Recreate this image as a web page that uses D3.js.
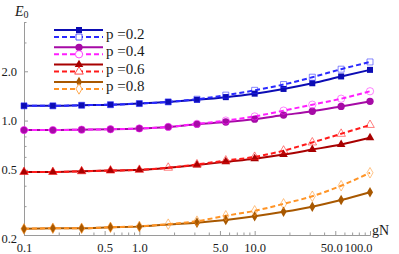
<!DOCTYPE html>
<html><head><meta charset="utf-8">
<script src="https://cdn.jsdelivr.net/npm/d3@7"></script>
<style>body{margin:0;background:#fff}svg{display:block}</style>
</head><body><svg id="c" width="399" height="254"></svg>
<script>
const gN = [0.1, 0.178, 0.316, 0.562, 1, 1.78, 3.16, 5.62, 10, 17.8, 31.6, 56.2, 100];
const labels = ["p =0.2", "p =0.4", "p =0.6", "p =0.8"];
const solid02 = [1.23,1.23,1.24,1.25,1.27,1.30,1.34,1.39,1.46,1.56,1.69,1.86,2.04];
const dashed02 = [1.23,1.23,1.24,1.25,1.27,1.30,1.35,1.43,1.53,1.66,1.84,2.06,2.28];
const solid04 = [0.875,0.875,0.88,0.885,0.895,0.915,0.95,0.98,1.02,1.08,1.14,1.22,1.31];
const dashed04 = [0.875,0.875,0.88,0.885,0.895,0.915,0.955,1.0,1.06,1.15,1.25,1.36,1.51];
const solid06 = [0.485,0.485,0.49,0.495,0.50,0.515,0.535,0.56,0.585,0.62,0.665,0.715,0.785];
const dashed06 = [0.485,0.485,0.49,0.495,0.50,0.515,0.54,0.57,0.60,0.655,0.735,0.83,0.94];
const solid08 = [0.218,0.22,0.22,0.223,0.225,0.232,0.238,0.247,0.26,0.277,0.298,0.327,0.365];
const dashed08 = [0.218,0.22,0.22,0.223,0.226,0.233,0.243,0.262,0.281,0.31,0.345,0.40,0.48];
const xTickVals = [0.1, 0.5, 1, 5, 10, 50, 100];
const xTickLabels = ["0.1", "0.5", "1.0", "5.0", "10.0", "50.0", "100.0"];
const xMinor = [0.2,0.3,0.4,0.6,0.7,0.8,0.9,2,3,4,6,7,8,9,20,30,40,60,70,80,90];
const yTickVals = [0.2, 0.5, 1, 2];
const yTickLabels = ["0.2", "0.5", "1.0", "2.0"];
const yMinor = [0.3,0.4,0.6,0.7,0.8,0.9,3,4];
// indices where the filled marker is absent in the reference
const hiddenSolid = [[], [], [5], [5]];

const solidColors = ["#0c0cb4", "#a60aa6", "#a80000", "#a85800"];
const dashColors = ["#2a2aff", "#ff1eff", "#ff1a1a", "#ff9426"];
const shapes = [d3.symbolSquare, d3.symbolCircle, d3.symbolTriangle, d3.symbolDiamond];
const sizes = [36, 42, 32, 32];

const series = [
  {solid: solid02, dashed: dashed02},
  {solid: solid04, dashed: dashed04},
  {solid: solid06, dashed: dashed06},
  {solid: solid08, dashed: dashed08}
];

const svg = d3.select("#c");
const x = d3.scaleLog().domain([0.1, 100]).range([24, 370]);
const y = d3.scaleLog().domain([0.2, 4]).range([235, 22]);
const serif = "\"Liberation Serif\"";
const axisCol = "#9a9a9a";

// X axis
const gx = svg.append("g").attr("transform", "translate(0,235)");
gx.call(d3.axisBottom(x).tickValues(xTickVals).tickFormat((d,i)=>xTickLabels[i]).tickSizeInner(-4).tickSizeOuter(0).tickPadding(8));
gx.append("g").call(d3.axisBottom(x).tickValues(xMinor).tickFormat("").tickSizeInner(-2.5).tickSizeOuter(0));
gx.attr("font-family", null);
gx.selectAll(".domain").attr("stroke", axisCol);
gx.selectAll("line").attr("stroke", axisCol);
gx.selectAll("text").style("font-family", serif).attr("font-size", 12.5).attr("fill", "#1a1a1a");
gx.selectAll(".tick text").filter(d => d === 100).attr("text-anchor", "end").attr("dx", 2);
gx.selectAll(".tick text").filter(d => d === 50).attr("dx", -4);

// Y axis
const gy = svg.append("g").attr("transform", "translate(24,0)");
gy.call(d3.axisLeft(y).tickValues(yTickVals).tickFormat((d,i)=>yTickLabels[i]).tickSizeInner(-4).tickSizeOuter(0).tickPadding(7));
gy.append("g").call(d3.axisLeft(y).tickValues(yMinor).tickFormat("").tickSizeInner(-2.5).tickSizeOuter(0));
gy.attr("font-family", null);
gy.selectAll(".domain").attr("stroke", axisCol);
gy.selectAll("line").attr("stroke", axisCol);
gy.selectAll("text").style("font-family", serif).attr("font-size", 12.5).attr("fill", "#1a1a1a");
gy.selectAll(".tick text").filter(d => d === 0.2).attr("dy", "0.6em");

// axis titles
const et = svg.append("text").attr("x", 15).attr("y", 16).style("font-family", serif).attr("font-size", 14).attr("fill", "#1a1a1a");
et.append("tspan").attr("font-style", "italic").text("E");
et.append("tspan").attr("font-size", 10).attr("dy", 2).text("0");
svg.append("text").attr("x", 372).attr("y", 235).style("font-family", serif).attr("font-size", 14).attr("fill", "#1a1a1a").text("gN");

const line = d3.line().x((d,i)=>x(gN[i])).y(d=>y(d)).curve(d3.curveMonotoneX);

series.forEach((s, k) => {
  svg.append("path").attr("d", line(s.solid)).attr("fill", "none")
    .attr("stroke", solidColors[k]).attr("stroke-width", 2);
});
series.forEach((s, k) => {
  svg.append("path").attr("d", line(s.dashed)).attr("fill", "none")
    .attr("stroke", dashColors[k]).attr("stroke-width", 2).attr("stroke-dasharray", "5,3");
});
series.forEach((s, k) => {
  const sym = d3.symbol().type(shapes[k]).size(sizes[k]);
  svg.append("g").selectAll("path").data(s.solid.map((v,i)=>({v,i})).filter(d=>!hiddenSolid[k].includes(d.i)))
    .join("path").attr("d", sym)
    .attr("transform", d=>`translate(${x(gN[d.i])},${y(d.v)})`)
    .attr("fill", solidColors[k]);
  svg.append("g").selectAll("path").data(s.dashed)
    .join("path").attr("d", sym)
    .attr("transform", (d,i)=>`translate(${x(gN[i])},${y(d)})`)
    .attr("fill", "none").attr("stroke", dashColors[k]).attr("stroke-width", 0.8).attr("stroke-opacity", 0.7);
});

// Legend
const legY = [30, 47.3, 64.6, 81.9];
labels.forEach((lab, k) => {
  const g = svg.append("g");
  const y0 = legY[k];
  const sym = d3.symbol().type(shapes[k]).size(sizes[k]);
  g.append("line").attr("x1", 54).attr("x2", 103).attr("y1", y0).attr("y2", y0)
    .attr("stroke", solidColors[k]).attr("stroke-width", 2);
  g.append("line").attr("x1", 54).attr("x2", 103).attr("y1", y0+7).attr("y2", y0+7)
    .attr("stroke", dashColors[k]).attr("stroke-width", 2).attr("stroke-dasharray", "5,3");
  g.append("path").attr("d", sym).attr("transform", `translate(79,${y0})`).attr("fill", solidColors[k]);
  g.append("path").attr("d", sym).attr("transform", `translate(79,${y0+7})`)
    .attr("fill", "#fff").attr("stroke", dashColors[k]).attr("stroke-width", 0.8);
  g.append("text").attr("x", 106).attr("y", y0 + 9).style("font-family", serif)
    .attr("font-size", 15).attr("fill", "#1a1a1a").text(lab);
});
</script></body></html>
